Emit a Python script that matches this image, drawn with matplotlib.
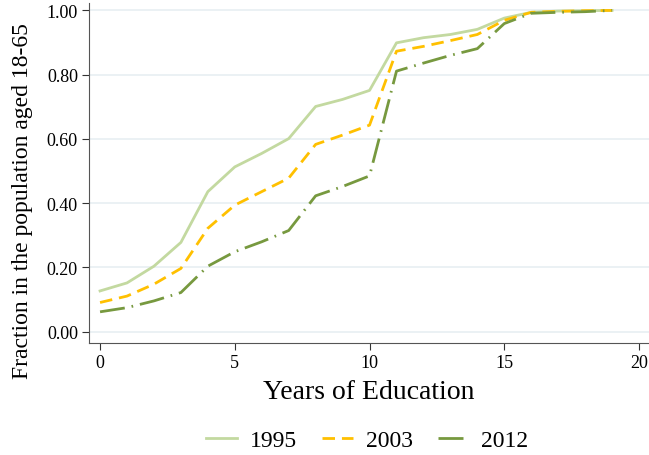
import matplotlib
matplotlib.use("Agg")
import matplotlib.pyplot as plt

years = list(range(20))
s1995 = [0.127, 0.152, 0.204, 0.278, 0.436, 0.513, 0.555, 0.601, 0.701, 0.723,
         0.751, 0.899, 0.915, 0.925, 0.941, 0.976, 0.994, 0.998, 0.999, 1.0]
s2003 = [0.091, 0.111, 0.148, 0.197, 0.322, 0.394, 0.436, 0.478, 0.583, 0.612,
         0.643, 0.873, 0.888, 0.906, 0.925, 0.969, 0.994, 0.997, 0.999, 1.0]
s2012 = [0.062, 0.075, 0.096, 0.122, 0.204, 0.249, 0.280, 0.315, 0.423, 0.452,
         0.485, 0.811, 0.836, 0.860, 0.881, 0.959, 0.991, 0.994, 0.996, 1.0]
labels = ["1995", "2003", "2012"]
xticks = [0, 5, 10, 15, 20]
yticks = [0.0, 0.2, 0.4, 0.6, 0.8, 1.0]

plt.rcParams['font.family'] = ['Liberation Serif', 'DejaVu Serif']

fig = plt.figure(figsize=(6.49, 4.56), dpi=100)
ax = fig.add_axes([89/649, 1 - 344/456, (649 - 89)/649, (344 - 4)/456])

ax.plot(years, s1995, color='#c3d9a0', lw=2.0, label=labels[0])
ax.plot(years, s2003, color='#ffc000', lw=2.0, dashes=(4.5, 2.5), label=labels[1])
ax.plot(years, s2012, color='#77993f', lw=2.0, dashes=(9, 2.5, 0.6, 2.5), label=labels[2])

ax.set_xlim(-0.41, 20.37)
ax.set_ylim(-0.035, 1.023)
ax.set_xticks(xticks)
ax.set_yticks(yticks)
ax.set_yticklabels([f"{v:.2f}" for v in yticks])
ax.yaxis.grid(True, color='#e8eff2', lw=1.2)
ax.set_axisbelow(True)
for s in ['top', 'right']:
    ax.spines[s].set_visible(False)
for s in ['left', 'bottom']:
    ax.spines[s].set_color('#555555')
ax.tick_params(axis='both', direction='out', length=5, pad=3, labelsize=13, color='#333333')
ax.set_xlabel("Years of Education", fontsize=20, labelpad=6)
ax.set_ylabel("Fraction in the population aged 18-65", fontsize=17)
ax.yaxis.set_label_coords(-(89 - 33)/560, (344 - 201)/340)

fig.legend(loc='lower center', ncol=3, frameon=False, fontsize=17,
           bbox_to_anchor=(0.566, -0.038), handlelength=1.3, handletextpad=0.55,
           columnspacing=1.06)

fig.savefig("out.png", dpi=100)
